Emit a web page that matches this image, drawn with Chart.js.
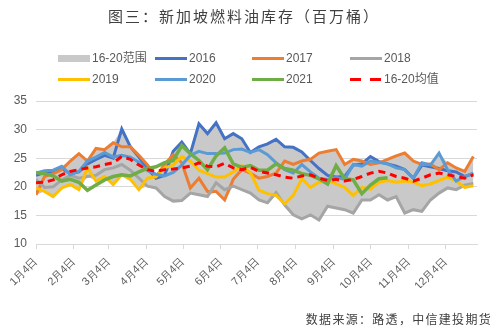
<!DOCTYPE html>
<html>
<head>
<meta charset="utf-8">
<script src="https://cdn.jsdelivr.net/npm/chart.js@4/dist/chart.umd.min.js"></script>
<style>
  body { margin: 0; background: #fff; }
  #wrap { position: relative; width: 500px; height: 333px; font-family: "Liberation Sans", "Noto Sans CJK SC", sans-serif; }
  #chart { position: absolute; left: 0; top: 0; }
  .title { position: absolute; left: 0; width: 488px; top: 5px; text-align: center; font-family: "Noto Sans CJK SC", sans-serif; font-size: 15px; letter-spacing: 2px; color: #404040; }
  .legend { position: absolute; font-size: 12px; color: #595959; line-height: 14px; }
  .item { position: absolute; white-space: nowrap; }
  .item i { position: absolute; left: 0; width: 32px; }
  .item span { position: absolute; left: 34px; top: -7px; }
  .src { position: absolute; right: 8px; top: 310px; font-family: "Noto Sans CJK SC", sans-serif; font-size: 12px; letter-spacing: 1.3px; color: #404040; }
</style>
</head>
<body>
<div id="wrap">
  <canvas id="chart" width="500" height="333"></canvas>
  <div class="title">图三：新加坡燃料油库存（百万桶）</div>
  <div class="legend" id="legend"></div>
  <div class="src">数据来源：路透，中信建投期货</div>
</div>
<script>
// weekly readings, first week = 1月4日
const s2016 = [22.0, 22.5, 22.7, 23.2, 22.3, 22.6, 24.0, 24.8, 25.5, 25.0, 30.1, 27.0, 25.2,
               23.2, 21.5, 22.0, 26.2, 27.8, 25.8, 31.0, 29.3, 31.2, 28.4, 29.3, 28.4, 26.0,
               27.0, 27.5, 28.3, 27.0, 26.9, 26.1, 24.6, 23.2, 22.0, 21.7, 21.8, 23.8, 24.0,
               25.3, 24.4, 24.0, 23.6, 23.0, 21.5, 23.8, 23.5, 23.2, 22.8, 22.6, 21.8, 22.3];
const s2017 = [18.6, 21.8, 22.3, 23.0, 24.5, 25.8, 24.5, 26.7, 26.5, 27.7, 27.0, 27.0, 25.5,
               23.8, 21.8, 23.9, 25.6, 24.2, 19.8, 21.5, 19.2, 19.2, 17.7, 21.3, 23.0, 22.4,
               21.5, 21.8, 22.4, 24.5, 23.9, 24.5, 24.8, 25.9, 26.2, 26.5, 23.9, 24.8, 24.5,
               23.9, 24.2, 24.8, 25.4, 25.9, 24.5, 23.9, 24.0, 23.0, 24.2, 23.3, 22.7, 25.3];
const s2018 = [21.3, 19.9, 20.0, 21.2, 22.0, 21.5, 21.8, 22.0, 23.0, 23.3, 23.9, 22.9, 21.5,
               20.1, 19.8, 18.3, 17.5, 17.6, 18.9, 18.6, 18.3, 20.7, 19.5, 20.1, 19.5, 18.9,
               17.7, 17.2, 19.0, 16.8, 15.1, 14.4, 15.1, 14.2, 16.6, 16.3, 16.0, 15.4, 17.7,
               17.7, 18.6, 17.7, 18.3, 15.4, 16.0, 15.7, 17.7, 18.9, 19.8, 19.5, 20.3, 20.6];
const s2019 = [19.8, 19.2, 18.3, 19.8, 20.4, 19.5, 23.3, 21.0, 21.8, 20.4, 22.1, 21.3, 19.5,
               21.5, 21.8, 23.3, 23.8, 25.3, 24.5, 22.9, 22.3, 21.7, 21.7, 22.6, 23.7, 22.5,
               19.4, 18.8, 18.5, 17.0, 18.5, 21.4, 19.9, 20.8, 21.1, 20.5, 19.9, 18.5, 19.9,
               19.6, 20.8, 21.1, 20.8, 21.0, 20.8, 20.2, 20.5, 21.1, 21.7, 21.0, 19.9, 20.2];
const s2020 = [22.4, 22.8, 22.9, 23.6, 22.1, 22.7, 24.5, 25.2, 26.0, 25.2, 25.5, 25.2, 24.3,
               22.8, 22.2, 21.9, 22.5, 23.8, 25.5, 26.2, 25.8, 25.8, 25.9, 26.5, 26.6, 26.0,
               26.5, 25.6, 24.2, 23.0, 22.4, 23.9, 22.6, 21.5, 21.3, 21.6, 21.3, 23.9, 23.6,
               24.5, 24.3, 24.0, 23.3, 23.0, 21.5, 24.2, 23.8, 25.9, 23.0, 21.0, 21.8, 22.4];
const s2021 = [22.5, 22.3, 21.9, 21.0, 21.3, 20.8, 19.4, 20.3, 21.2, 21.8, 22.1, 21.9, 22.6,
               23.2, 23.5, 24.2, 24.6, 27.2, 25.8, 24.6, 23.0, 25.4, 26.8, 24.0, 23.4, 23.7,
               22.9, 22.9, 24.0, 23.2, 22.9, 22.3, 22.0, 21.4, 20.5, 23.7, 21.4, 21.2, 18.8,
               20.3, 21.4, 21.6, null, null, null, null, null, null, null, null, null, null];
const avg1620 = [20.7, 20.8, 21.2, 22.1, 22.7, 23.0, 23.3, 23.5, 23.9, 24.2, 25.3, 24.8, 23.8,
                 23.0, 22.7, 23.0, 23.1, 23.3, 23.6, 24.2, 23.6, 23.5, 24.1, 23.3, 23.0, 23.4,
                 22.7, 22.4, 22.1, 21.7, 21.5, 21.9, 22.1, 21.5, 21.1, 21.3, 21.0, 21.3, 21.8,
                 22.4, 22.7, 22.4, 21.8, 21.5, 21.0, 21.5, 22.1, 22.4, 22.1, 21.8, 21.5, 22.1];

// month ticks, in days after 1月4日
const tickDays = [0, 31, 59, 90, 120, 151, 181, 212, 243, 273, 304, 334];
const tickLabels = ['1月4日', '2月4日', '3月4日', '4月4日', '5月4日', '6月4日',
                    '7月4日', '8月4日', '9月4日', '10月4日', '11月4日', '12月4日'];

const pts = arr => arr.map((v, i) => ({ x: i * 7, y: v }));

// 16-20 range = min / max of the five years
const hist = [s2016, s2017, s2018, s2019, s2020];
const rangeLow = s2016.map((_, i) => Math.min(...hist.map(s => s[i])));
const rangeHigh = s2016.map((_, i) => Math.max(...hist.map(s => s[i])));

const line = (label, data, color, order, extra) => Object.assign({
  label, data: pts(data), borderColor: color, backgroundColor: color,
  borderWidth: 3, pointRadius: 0, tension: 0, fill: false, order
}, extra || {});

const datasets = [
  { label: 'low', data: pts(rangeLow), borderWidth: 0, borderColor: 'transparent', pointRadius: 0, fill: false, order: 9 },
  { label: '16-20范围', data: pts(rangeHigh), borderWidth: 0, borderColor: 'transparent', backgroundColor: '#C9C9C9', pointRadius: 0, fill: '-1', order: 8 },
  line('2016', s2016, '#4472C4', 6),
  line('2017', s2017, '#ED7D31', 5),
  line('2018', s2018, '#A5A5A5', 4),
  line('2019', s2019, '#FFC000', 3),
  line('2020', s2020, '#5B9BD5', 2),
  line('2021', s2021, '#70AD47', 1, { borderWidth: 3.5 }),
  line('16-20均值', avg1620, '#FF0000', 0, { borderDash: [7, 5] })
];

new Chart(document.getElementById('chart'), {
  type: 'line',
  data: { datasets },
  options: {
    responsive: false,
    animation: false,
    layout: { padding: { top: 101, right: 23, bottom: 45, left: 0 } },
    plugins: { legend: { display: false }, tooltip: { enabled: false } },
    scales: {
      x: {
        type: 'linear', min: 0, max: 360,
        afterBuildTicks: s => { s.ticks = tickDays.map(v => ({ value: v })); },
        afterFit: s => { s.height = 44; },
        ticks: {
          autoSkip: false, maxRotation: 45, minRotation: 45, padding: 6,
          color: '#595959', font: { size: 11 },
          callback: (v, i) => tickLabels[i]
        },
        grid: { drawOnChartArea: false, tickLength: 5, color: '#D9D9D9' },
        border: { color: '#D9D9D9' }
      },
      y: {
        min: 10, max: 35,
        afterFit: s => { s.width = 36; },
        ticks: { stepSize: 5, padding: 9, color: '#595959', font: { size: 12 } },
        grid: { color: '#D9D9D9', drawTicks: false },
        border: { display: false }
      }
    }
  }
});

// legend, two rows of four
const legendItems = [
  ['16-20范围', 'box', '#C9C9C9'], ['2016', 'line', '#4472C4'], ['2017', 'line', '#ED7D31'], ['2018', 'line', '#A5A5A5'],
  ['2019', 'line', '#FFC000'], ['2020', 'line', '#5B9BD5'], ['2021', 'line', '#70AD47'], ['16-20均值', 'dash', '#FF0000']
];
const colX = [58, 155, 252, 350];
const rowY = [58, 79];
const legend = document.getElementById('legend');
legendItems.forEach(([text, kind, color], k) => {
  const el = document.createElement('div');
  el.className = 'item';
  el.style.left = colX[k % 4] + 'px';
  el.style.top = rowY[Math.floor(k / 4)] + 'px';
  const sw = document.createElement('i');
  if (kind === 'box') {
    sw.style.height = '7px'; sw.style.top = '-3px'; sw.style.background = color;
  } else if (kind === 'dash') {
    sw.style.height = '3px'; sw.style.top = '-1px';
    sw.style.background = `repeating-linear-gradient(90deg, ${color} 0 11px, transparent 11px 20px)`;
  } else {
    sw.style.height = '3px'; sw.style.top = '-1px'; sw.style.background = color;
  }
  const t = document.createElement('span');
  t.textContent = text;
  el.appendChild(sw);
  el.appendChild(t);
  legend.appendChild(el);
});
</script>
</body>
</html>
